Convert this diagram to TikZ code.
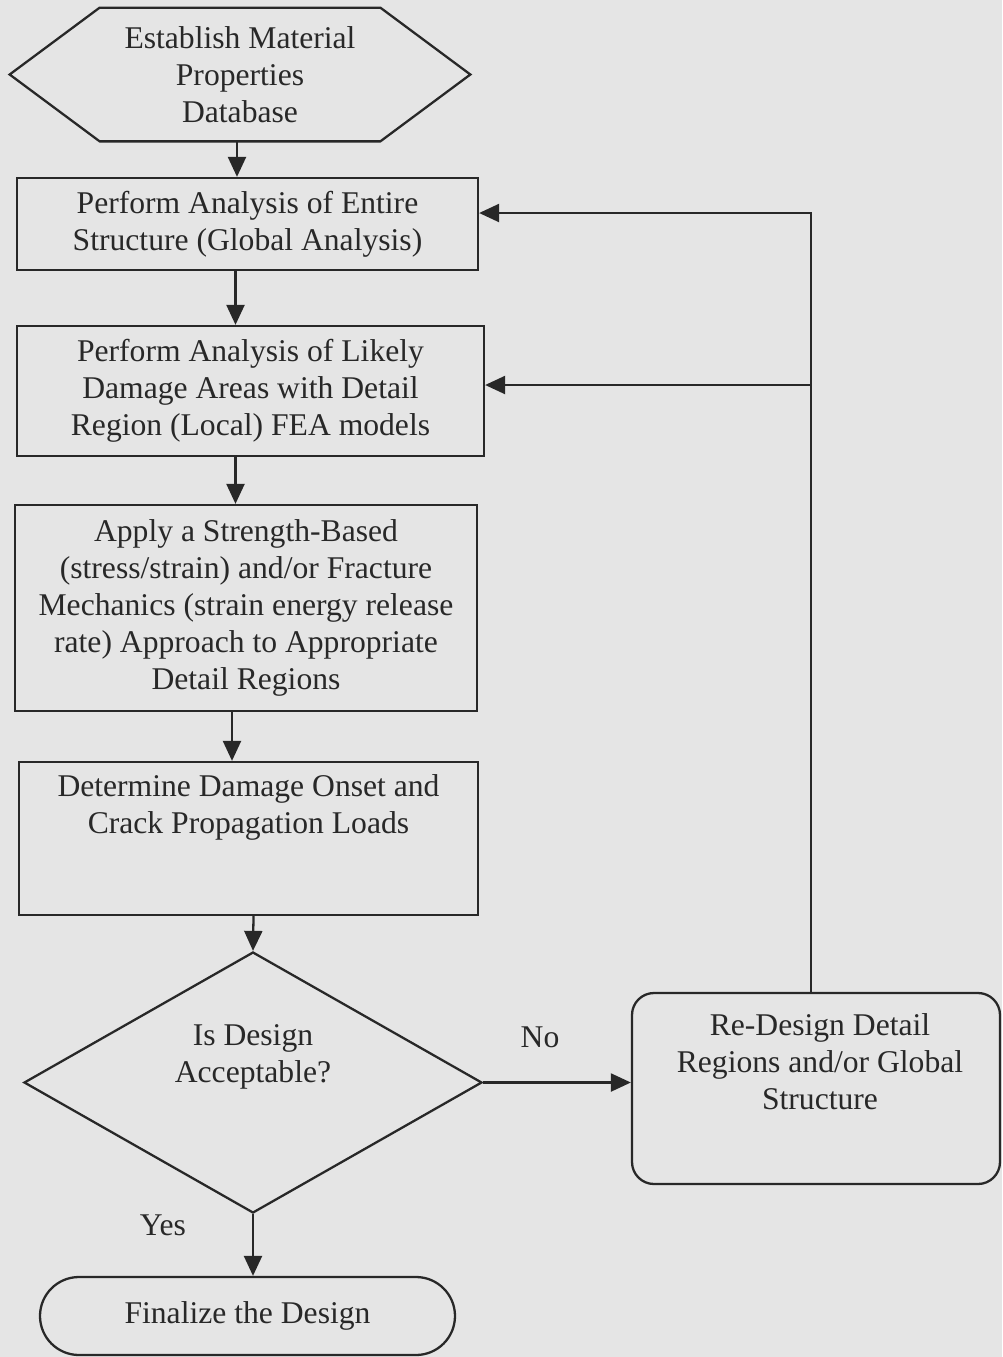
\documentclass[tikz,border=0pt]{standalone}
\usepackage{fontspec}
\setmainfont{Liberation Serif}
\usetikzlibrary{shapes.geometric, shapes.misc, arrows.meta}
\newlength\pxl
\setlength\pxl{0.02cm}
\definecolor{paper}{RGB}{229,229,229}
\definecolor{ink}{RGB}{40,40,40}
\tikzset{every picture/.append style={x=\pxl, y=-\pxl}}
\tikzset{
	every node/.style={font=\fontsize{18}{21}\selectfont, text=ink,
		inner sep=0pt, align=center},
	frame/.style={draw=ink, line width=1.3pt},
	stepbox/.style={frame, rectangle},
	decision/.style={frame, diamond},
	terminal/.style={frame, rounded rectangle},
	redesign/.style={frame, rectangle, rounded corners=22\pxl},
	flow/.style={draw=ink, line width=1.3pt, -{Triangle[length=0.4cm, width=0.36cm]}}
}

\begin{document}
\begin{tikzpicture}
	\path[use as bounding box, fill=paper] (0, 0) rectangle (1002, 1357);

	\node (1) [minimum width=460\pxl, minimum height=133\pxl] at (240, 74.5)
		{Establish Material\\Properties\\Database};
	\node (2) [stepbox, minimum width=461\pxl, minimum height=92\pxl] at (247.5, 224)
		{Perform Analysis of Entire\\Structure (Global Analysis)};
	\node (3) [stepbox, minimum width=467\pxl, minimum height=130\pxl] at (250.5, 391)
		{Perform Analysis of Likely\\Damage Areas with Detail\\Region (Local) FEA models};
	\node (4) [stepbox, minimum width=462\pxl, minimum height=206\pxl] at (246, 608)
		{Apply a Strength-Based\\(stress/strain) and/or Fracture\\Mechanics (strain energy release\\rate) Approach to Appropriate\\Detail Regions};
	\node (5) [stepbox, minimum width=459\pxl, minimum height=153\pxl,
		label={[yshift=31.5\pxl]center:{Determine Damage Onset and\\Crack Propagation Loads}}] at (248.5, 838.5) {};
	\node (6) [decision, minimum width=458\pxl, minimum height=261\pxl,
		label={[yshift=26\pxl]center:{Is Design\\Acceptable?}}] at (253, 1082.5) {};
	\node (7) [terminal, minimum width=415\pxl, minimum height=78\pxl] at (247.5, 1316)
		{Finalize the Design};
	\node (8) [redesign, minimum width=368\pxl, minimum height=191\pxl,
		label={[xshift=4\pxl, yshift=26.5\pxl]center:{Re-Design Detail\\Regions and/or Global\\Structure}}] at (816, 1088.5) {};

	\node (yes) at (163, 1225) {Yes};
	\node (no) at (540, 1037) {No};

	\coordinate (t) at (811, 213);
	\coordinate (j) at (811, 385);

	\draw[frame, line join=miter] ([xshift=90\pxl]1.north west) -- ([xshift=-90\pxl]1.north east)
		-- (1.east) -- ([xshift=-90\pxl]1.south east) -- ([xshift=90\pxl]1.south west)
		-- (1.west) -- cycle;

	\draw[flow] ([xshift=-3\pxl]1.south) -- ([xshift=-3\pxl]1.south |- 2.north);
	\draw[flow] ([xshift=-12\pxl]2.south) -- ([xshift=-12\pxl]2.south |- 3.north);
	\draw[flow] ([xshift=-15\pxl]3.south) -- ([xshift=-15\pxl]3.south |- 4.north);
	\draw[flow] ([xshift=-14\pxl]4.south) -- ([xshift=-14\pxl]4.south |- 5.north);
	\draw[flow] ([xshift=5\pxl]5.south) -- (6.north);
	\draw[flow] (6.south) -- (6.south |- 7.north);
	\draw[flow] (6.east) -- (6.east -| 8.west);
	\draw[flow] (8.north -| t) -- (t) -- (2.east |- t);
	\draw[flow] (j) -- (3.east |- j);
\end{tikzpicture}
\end{document}
